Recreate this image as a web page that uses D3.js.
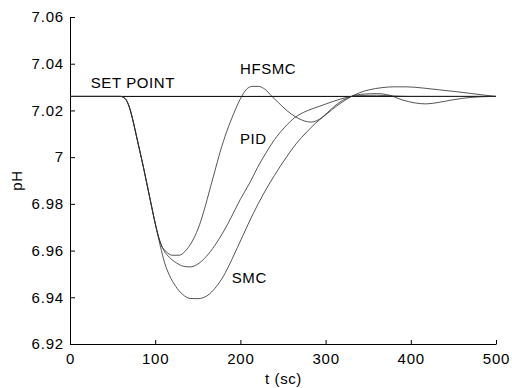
<!DOCTYPE html>
<meta charset="utf-8">
<style>
  body { margin: 0; background: white; }
  svg { font-family: Arial, "Liberation Sans", sans-serif; }
  .curve { fill: none; stroke: #2a2a2a; stroke-width: 0.8; }
  .setpoint { stroke: black; stroke-width: 1; }
  .axis line, .axis path { stroke: black; }
  .lbl { font-size: 15px; letter-spacing: 0.6px; fill: black; }
</style>
<body>
</body>
<script src="https://cdn.jsdelivr.net/npm/d3@7/dist/d3.min.js"></script>
<script>
  const xTicks = [0, 100, 200, 300, 400, 500];
  const yTicks = [6.92, 6.94, 6.96, 6.98, 7, 7.02, 7.04, 7.06];
  const setPoint = 7.026;

  // shared response before the controllers separate
  const common = [[0, 7.026], [60, 7.026], [63, 7.0255], [66, 7.0245], [70, 7.021], [74, 7.0155],
    [78, 7.009], [82, 7.0025], [86, 6.996], [90, 6.989], [94, 6.982], [98, 6.975], [102, 6.9685]];

  const hfsmc = [[107, 6.9625], [113, 6.9595], [120, 6.958], [128, 6.958], [137, 6.9605], [145, 6.965],
    [152, 6.971], [158, 6.978], [164, 6.986], [170, 6.994], [176, 7.002], [184, 7.011], [192, 7.0185],
    [200, 7.025], [207, 7.029], [214, 7.0303], [221, 7.0303], [229, 7.029], [237, 7.026], [245, 7.0232],
    [255, 7.0198], [265, 7.0172], [275, 7.0155], [283, 7.015], [293, 7.0163], [302, 7.019], [311, 7.022],
    [320, 7.0243], [330, 7.026], [345, 7.027], [360, 7.0272], [375, 7.0265], [390, 7.0245], [405, 7.0232],
    [418, 7.0228], [432, 7.0234], [447, 7.0244], [461, 7.0252], [480, 7.0258], [500, 7.026]];

  const pid = [[106, 6.9635], [110, 6.9602], [117, 6.957], [125, 6.9547], [133, 6.9533], [141, 6.953],
    [150, 6.9542], [160, 6.9575], [170, 6.9622], [180, 6.968], [190, 6.9748], [200, 6.982], [211, 6.989],
    [220, 6.9955], [230, 7.0018], [240, 7.0075], [252, 7.0128], [264, 7.017], [278, 7.0198], [293, 7.0218],
    [310, 7.024], [325, 7.0256], [340, 7.0264], [360, 7.0265], [380, 7.0262], [400, 7.026], [450, 7.026],
    [500, 7.026]];

  const smc = [[106, 6.962], [111, 6.9548], [117, 6.9492], [124, 6.9447], [132, 6.9413], [141, 6.9395],
    [150, 6.9394], [157, 6.9399], [164, 6.9415], [172, 6.9447], [180, 6.949], [190, 6.9562], [203, 6.9665],
    [215, 6.9758], [227, 6.9842], [240, 6.9922], [254, 7.0], [266, 7.006], [278, 7.0108], [288, 7.0145],
    [298, 7.0175], [308, 7.0205], [318, 7.0232], [329, 7.0257], [340, 7.0276], [352, 7.0289], [365, 7.0297],
    [380, 7.0301], [395, 7.0301], [414, 7.0296], [434, 7.0288], [454, 7.028], [470, 7.0273], [485, 7.0266],
    [500, 7.026]];

  const series = [common.concat(hfsmc), common.concat(pid), common.concat(smc)];

  // annotation anchors in data units
  const labels = [
    {text: 'SET POINT', t: 24.3, v: 7.0296},
    {text: 'HFSMC', t: 199.5, v: 7.0356},
    {text: 'PID', t: 199.5, v: 7.0058},
    {text: 'SMC', t: 189.8, v: 6.9463}
  ];

  const w = 512, h = 388;
  const l = 70, r = 496, t = 17, b = 344;

  const svg = d3.select('body').append('svg')
    .attr('width', w)
    .attr('height', h);

  const x = d3.scaleLinear().domain([0, 500]).range([l, r]);
  const y = d3.scaleLinear().domain([6.92, 7.06]).range([b, t]);

  // left axis, ticks pointing inward
  const ya = svg.append('g').attr('class', 'axis')
    .attr('transform', `translate(${l},0)`)
    .call(d3.axisRight(y).tickValues(yTicks).tickSize(5).tickSizeOuter(0).tickFormat(d3.format('')));
  ya.selectAll('text')
    .attr('x', -6).attr('text-anchor', 'end')
    .attr('font-size', 15).attr('letter-spacing', 0.8)
    .attr('font-family', 'Arial, "Liberation Sans", sans-serif');

  // bottom axis, ticks pointing inward
  const xa = svg.append('g').attr('class', 'axis')
    .attr('transform', `translate(0,${b})`)
    .call(d3.axisTop(x).tickValues(xTicks).tickSize(4).tickSizeOuter(0));
  xa.selectAll('text')
    .attr('y', 20).attr('dy', 0)
    .attr('font-size', 15).attr('letter-spacing', 0.8)
    .attr('font-family', 'Arial, "Liberation Sans", sans-serif');

  svg.append('line').attr('class', 'setpoint')
    .attr('x1', x(0)).attr('x2', x(500))
    .attr('y1', y(setPoint)).attr('y2', y(setPoint));

  const line = d3.line()
    .x(d => x(d[0]))
    .y(d => y(d[1]))
    .curve(d3.curveMonotoneX);

  svg.append('g').selectAll('path')
    .data(series)
    .join('path')
    .attr('class', 'curve')
    .attr('d', line);

  svg.append('g').selectAll('text')
    .data(labels)
    .join('text')
    .attr('class', 'lbl')
    .attr('x', d => x(d.t))
    .attr('y', d => y(d.v))
    .text(d => d.text);

  svg.append('text').attr('class', 'lbl')
    .attr('x', (l + r) / 2 + 0.5).attr('y', 384)
    .attr('text-anchor', 'middle')
    .text('t (sc)');

  svg.append('text').attr('class', 'lbl')
    .attr('transform', `translate(22,${(t + b) / 2}) rotate(-90)`)
    .attr('text-anchor', 'middle')
    .text('pH');
</script>
